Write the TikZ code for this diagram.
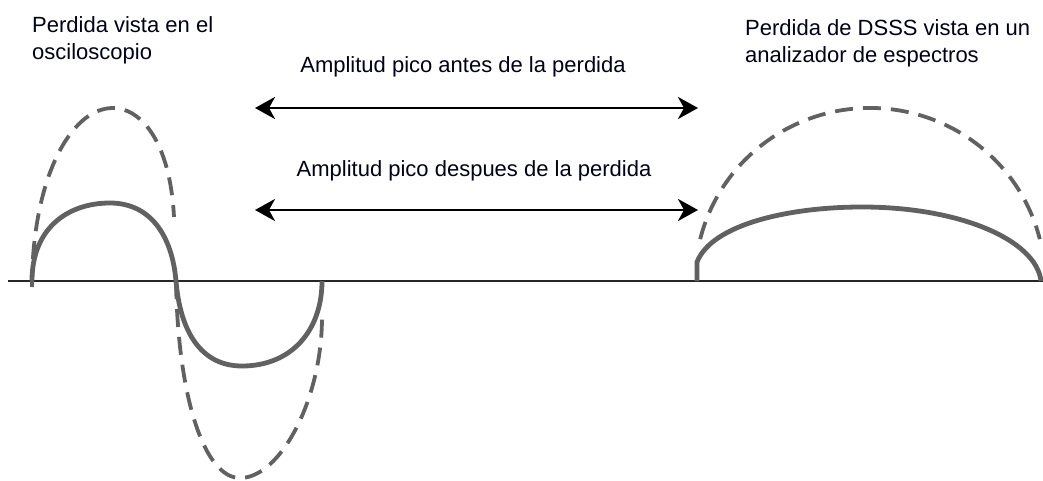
\documentclass[tikz,border=0pt]{standalone}
\usepackage{fontspec}
\setmainfont{Liberation Sans}
\usetikzlibrary{arrows.meta}
\begin{document}
\begin{tikzpicture}[x=1pt,y=1pt,
  lbl/.style={inner sep=0pt,font=\fontsize{22}{27}\selectfont,text=black!90!blue},
  solidwave/.style={draw=black!62,line width=4.8pt},
  dashwave/.style={draw=black!62,line width=3.8pt,dash pattern=on 18pt off 10pt},
  axisline/.style={draw=black!85,line width=1.4pt},
  amparrow/.style={draw=black,line width=2.8pt,{Stealth[length=20pt,width=22pt,inset=6pt]}-{Stealth[length=20pt,width=22pt,inset=6pt]}}]
\useasboundingbox (0,0) rectangle (1043,480);
% axis
\coordinate (ax0) at (8,199);
\coordinate (ax1) at (1043,199);
\draw[axisline] (ax0) -- (ax1);
% left: oscilloscope view
\draw[dashwave] (32,193) .. controls (32,300) and (70,372) .. (113,372)
  .. controls (140,372) and (170,340) .. (174,263);
\draw[dashwave] (176,199) .. controls (178,80) and (205,2) .. (240,2)
  .. controls (280,2) and (322,80) .. (322,163);
\draw[solidwave] (32,199) .. controls (32,252) and (68,277) .. (110,277)
  .. controls (150,277) and (172,245) .. (176,199)
  .. controls (180,150) and (200,114) .. (242,114)
  .. controls (292,114) and (322,150) .. (322,199);
% right: spectrum analyser view
\draw[dashwave] (870,199) ++(166:175 and 173) arc[start angle=166,end angle=14,x radius=175,y radius=173];
\draw[solidwave] (697,199) -- (697,218) .. controls (712,256) and (790,273) .. (862,273)
  .. controls (960,273) and (1036,240) .. (1041,199);
% arrows
\coordinate (t0) at (255,372);
\coordinate (t1) at (698,372);
\coordinate (b0) at (255,270);
\coordinate (b1) at (698,270);
\draw[amparrow] (t0) -- (t1);
\draw[amparrow] (b0) -- (b1);
% labels
\node[lbl,anchor=north west,align=left] (osc) at (32,464) {Perdida vista en el\\osciloscopio};
\node[lbl,anchor=north west,align=left] (dsss) at (745,461) {Perdida de DSSS vista en un\\analizador de espectros};
\node[lbl,anchor=base] (antes) at (463,407) {Amplitud pico antes de la perdida};
\node[lbl,anchor=base] (despues) at (474,303) {Amplitud pico despues de la perdida};
\end{tikzpicture}
\end{document}
